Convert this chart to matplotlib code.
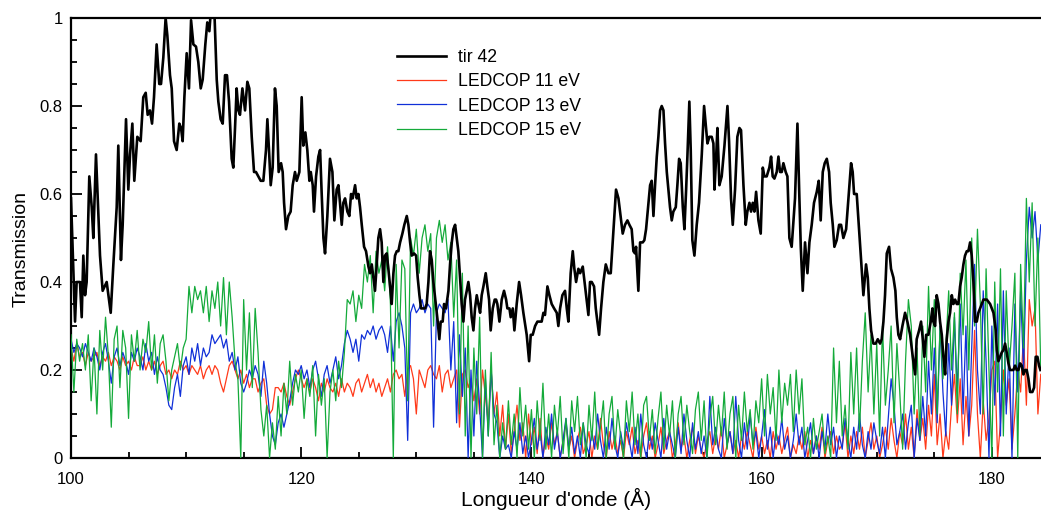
import numpy as np
import matplotlib
matplotlib.use("Agg")
import matplotlib.pyplot as plt
from matplotlib.ticker import MultipleLocator, FormatStrFormatter

plt.rcParams['font.family'] = ['Liberation Sans', 'DejaVu Sans']

# ---------------- data ----------------
labels = ["tir 42", "LEDCOP 11 eV", "LEDCOP 13 eV", "LEDCOP 15 eV"]

tir_x = [100.00, 100.35, 100.49, 100.78, 100.93, 101.07, 101.22, 101.36, 101.59, 101.80, 101.94,
         102.17, 102.37, 102.52, 102.75, 103.10, 103.45, 103.68, 103.97, 104.11, 104.34, 104.49,
         104.78, 104.98, 105.13, 105.33, 105.50, 105.76, 106.05, 106.28, 106.49, 106.66, 106.86,
         107.04, 107.21, 107.44, 107.67, 107.82, 108.02, 108.22, 108.37, 108.60, 108.75, 108.95,
         109.18, 109.41, 109.56, 109.70, 109.85, 110.05, 110.25, 110.43, 110.63, 110.86, 111.06,
         111.27, 111.44, 111.67, 111.84, 112.02, 112.16, 112.45, 112.66, 112.80, 113.00, 113.18,
         113.38, 113.55, 113.73, 113.96, 114.10, 114.25, 114.39, 114.54, 114.68, 114.89, 115.12,
         115.32, 115.49, 115.70, 115.90, 116.07, 116.28, 116.48, 116.71, 116.94, 117.06, 117.23,
         117.35, 117.52, 117.72, 117.87, 118.04, 118.25, 118.39, 118.51, 118.68, 118.88, 119.08,
         119.26, 119.46, 119.61, 119.84, 120.04, 120.18, 120.36, 120.53, 120.71,
         120.83, 121.00, 121.11, 121.29, 121.49, 121.64, 121.78, 121.93, 122.07, 122.27, 122.50,
         122.71, 122.88, 123.08, 123.23, 123.37, 123.52, 123.66, 123.81, 124.01, 124.18, 124.33,
         124.47, 124.68, 124.82, 124.97, 125.11, 125.26, 125.46, 125.63, 125.84, 125.98, 126.13,
         126.27, 126.41, 126.56, 126.70, 126.85, 126.99, 127.14, 127.28, 127.43, 127.57, 127.72,
         127.86, 128.01, 128.15, 128.30, 128.44, 128.59, 128.79, 128.96, 129.17, 129.31, 129.46,
         129.60, 129.80, 129.98, 130.12, 130.27, 130.41, 130.61, 130.76, 130.90, 131.05, 131.19,
         131.34, 131.48, 131.69, 131.86, 132.00, 132.12, 132.29, 132.41, 132.58, 132.79, 132.93,
         133.08, 133.22, 133.37, 133.51, 133.65, 133.80, 133.94, 134.09, 134.23, 134.38, 134.52,
         134.67, 134.81, 134.96, 135.10, 135.25, 135.39, 135.54, 135.68, 135.83, 136.03, 136.17,
         136.32, 136.46, 136.64, 136.81, 136.93, 137.04, 137.22, 137.42, 137.62, 137.80, 137.91,
         138.09, 138.20, 138.38, 138.52, 138.72, 138.93, 139.10, 139.30, 139.59, 139.80, 139.94,
         140.11, 140.32, 140.52,
         140.75, 140.89, 141.04, 141.18, 141.39, 141.56, 141.76, 141.97, 142.20, 142.34, 142.49,
         142.69, 142.92, 143.07, 143.21, 143.41, 143.59, 143.73, 143.88, 144.08, 144.23, 144.46,
         144.66, 144.80, 144.95, 145.09, 145.24, 145.44, 145.59, 145.73, 145.88, 146.05, 146.25,
         146.46, 146.69, 146.89, 147.06, 147.21, 147.35, 147.56, 147.70, 147.93, 148.13, 148.34,
         148.51, 148.71, 148.86, 149.00, 149.09, 149.29, 149.44, 149.67, 149.81, 149.96, 150.10,
         150.31, 150.45, 150.60, 150.74, 150.89, 151.03, 151.18, 151.32, 151.47, 151.61, 151.76,
         151.90, 152.04, 152.19, 152.33, 152.54, 152.68, 152.83, 152.97, 153.15, 153.29, 153.44,
         153.55, 153.72, 153.84, 153.98, 154.16, 154.36, 154.56, 154.80, 155.00, 155.14, 155.29,
         155.46, 155.66, 155.81, 155.90, 156.04, 156.16, 156.33, 156.53, 156.77, 157.03, 157.17,
         157.34, 157.49, 157.69, 157.89, 158.07, 158.21, 158.42, 158.62, 158.76, 158.94, 159.08,
         159.23, 159.37, 159.52, 159.72, 159.92, 160.10, 160.24, 160.44, 160.67, 160.82, 160.96,
         161.11, 161.31, 161.46, 161.60, 161.75, 161.89, 162.09, 162.24, 162.41, 162.61,
         162.90, 163.11, 163.28, 163.40, 163.57, 163.77, 163.98, 164.15, 164.35, 164.55, 164.79,
         164.96, 165.13, 165.31, 165.48, 165.66, 165.86, 166.00, 166.18, 166.32, 166.52, 166.73,
         166.90, 167.10, 167.34, 167.54, 167.77, 167.91, 168.03, 168.26, 168.44, 168.64, 168.84,
         169.07, 169.22, 169.36, 169.51, 169.71, 169.91, 170.09, 170.29, 170.43, 170.58, 170.72,
         170.87, 171.07, 171.24, 171.45, 171.62, 171.74, 171.88, 172.03, 172.23, 172.46, 172.66,
         172.90, 173.13, 173.33, 173.47, 173.68, 173.85, 174.00, 174.14, 174.29, 174.49, 174.69,
         174.84, 174.92, 175.07, 175.21, 175.36, 175.50, 175.65, 175.79, 175.94, 176.08, 176.23,
         176.37, 176.52, 176.66, 176.81, 176.95, 177.09, 177.24, 177.38, 177.53, 177.67, 177.82,
         177.96, 178.11, 178.25, 178.40, 178.54, 178.69, 178.83, 178.98, 179.12, 179.27, 179.56,
         179.85, 180.14, 180.34, 180.43, 180.57, 180.71, 180.86, 181.00, 181.15, 181.29, 181.44,
         181.58, 181.73, 181.87, 182.02, 182.16, 182.31, 182.45, 182.60, 182.74, 182.89, 183.03,
         183.18, 183.32, 183.52, 183.67, 183.81, 183.96, 184.10, 184.22]

tir_y = [0.59, 0.31, 0.40, 0.40, 0.32, 0.46, 0.37, 0.40, 0.64, 0.57, 0.50,
         0.69, 0.56, 0.46, 0.38, 0.40, 0.33, 0.44, 0.57, 0.71, 0.45, 0.53,
         0.77, 0.61, 0.69, 0.76, 0.63, 0.73, 0.72, 0.82, 0.83, 0.78, 0.79,
         0.76, 0.82, 0.94, 0.85, 0.85, 0.91, 1.00, 0.96, 0.87, 0.84, 0.72,
         0.70, 0.76, 0.75, 0.72, 0.82, 0.92, 0.84, 0.995, 0.94, 0.935, 0.90,
         0.84, 0.86, 0.94, 0.99, 0.97, 1.02, 1.02, 0.86, 0.81, 0.77, 0.76,
         0.87, 0.87, 0.81, 0.68, 0.66, 0.75, 0.84, 0.79, 0.78, 0.84, 0.79,
         0.855, 0.84, 0.73, 0.65, 0.65, 0.64, 0.63, 0.63, 0.70, 0.77, 0.685,
         0.62, 0.66, 0.84, 0.80, 0.65, 0.67, 0.65, 0.58, 0.52, 0.55, 0.56,
         0.62, 0.65, 0.63, 0.65, 0.82, 0.71, 0.74, 0.70, 0.63,
         0.65, 0.62, 0.56, 0.64, 0.685, 0.70, 0.60, 0.50, 0.465, 0.55, 0.68,
         0.65, 0.54, 0.61, 0.62, 0.58, 0.53, 0.58, 0.59, 0.56, 0.55, 0.60,
         0.59, 0.62, 0.59, 0.60, 0.57, 0.53, 0.48, 0.47, 0.435, 0.42, 0.44,
         0.41, 0.38, 0.44, 0.50, 0.52, 0.49, 0.40, 0.46, 0.465, 0.43, 0.39,
         0.35, 0.42, 0.46, 0.47, 0.47, 0.49, 0.51, 0.53, 0.55, 0.53, 0.49,
         0.46, 0.465, 0.46, 0.41, 0.37, 0.34, 0.34, 0.34, 0.35, 0.40, 0.47,
         0.45, 0.40, 0.35, 0.31, 0.27, 0.31, 0.31, 0.35, 0.34, 0.38, 0.44,
         0.49, 0.52, 0.53, 0.50, 0.47, 0.41, 0.35, 0.31, 0.36, 0.38, 0.40,
         0.37, 0.32, 0.29, 0.34, 0.37, 0.35, 0.33, 0.37, 0.39, 0.42, 0.39,
         0.36, 0.29, 0.34, 0.36, 0.36, 0.35, 0.31, 0.36, 0.38, 0.36, 0.34,
         0.34, 0.32, 0.34, 0.29, 0.35, 0.40, 0.37, 0.33, 0.28, 0.22, 0.28,
         0.28, 0.30, 0.31,
         0.31, 0.31, 0.33, 0.325, 0.39, 0.37, 0.35, 0.34, 0.33, 0.30, 0.34,
         0.37, 0.38, 0.34, 0.31, 0.42, 0.47, 0.43, 0.40, 0.43, 0.42, 0.435,
         0.39, 0.36, 0.325, 0.40, 0.40, 0.39, 0.34, 0.31, 0.28, 0.34, 0.40,
         0.44, 0.42, 0.42, 0.49, 0.55, 0.61, 0.59, 0.56, 0.51, 0.53, 0.54,
         0.53, 0.52, 0.47, 0.465, 0.48, 0.38, 0.49, 0.49, 0.495, 0.52, 0.56,
         0.62, 0.63, 0.55, 0.62, 0.685, 0.73, 0.79, 0.80, 0.79, 0.715, 0.65,
         0.61, 0.57, 0.54, 0.56, 0.57, 0.62, 0.68, 0.67, 0.57, 0.52, 0.61,
         0.685, 0.81, 0.70, 0.495, 0.46, 0.53, 0.58, 0.69, 0.80, 0.76, 0.715,
         0.73, 0.73, 0.715, 0.61, 0.68, 0.75, 0.62, 0.64, 0.71, 0.80, 0.72,
         0.59, 0.53, 0.61, 0.73, 0.75, 0.745, 0.62, 0.53, 0.56, 0.58, 0.56,
         0.58, 0.56, 0.605, 0.54, 0.51, 0.66, 0.64, 0.64, 0.66, 0.685, 0.64,
         0.635, 0.65, 0.685, 0.65, 0.65, 0.67, 0.65, 0.64, 0.50, 0.48,
         0.59, 0.76, 0.59, 0.48, 0.38, 0.49, 0.42, 0.49, 0.53, 0.58, 0.605,
         0.63, 0.54, 0.65, 0.67, 0.68, 0.65, 0.58, 0.53, 0.48, 0.495, 0.53,
         0.53, 0.50, 0.52, 0.59, 0.67, 0.65, 0.60, 0.60, 0.53, 0.45, 0.37,
         0.44, 0.41, 0.34, 0.29, 0.26, 0.26, 0.27, 0.26, 0.27, 0.31, 0.37,
         0.465, 0.48, 0.43, 0.41, 0.38, 0.32, 0.28, 0.27, 0.30, 0.33, 0.31,
         0.28, 0.23, 0.19, 0.27, 0.29, 0.31, 0.27, 0.23, 0.28, 0.28, 0.31,
         0.34, 0.31, 0.30, 0.37, 0.35, 0.31, 0.28, 0.23, 0.19, 0.27, 0.31,
         0.33, 0.37, 0.35, 0.36, 0.35, 0.35, 0.39, 0.41, 0.44, 0.46, 0.47,
         0.47, 0.49, 0.46, 0.40, 0.31, 0.31, 0.33, 0.34, 0.35, 0.36, 0.36,
         0.35, 0.33, 0.29, 0.245, 0.22, 0.23, 0.24, 0.245, 0.26, 0.24, 0.215,
         0.20, 0.20, 0.20, 0.21, 0.20, 0.20, 0.215, 0.21, 0.19, 0.20, 0.20,
         0.18, 0.15, 0.15, 0.16, 0.23, 0.23, 0.21, 0.20]

# LEDCOP spectra sampled every 0.25 A from 100.00 to 184.25 A
led_start, led_step = 100.0, 0.25

led11 = [0.25, 0.22, 0.26, 0.23, 0.24, 0.21, 0.24, 0.22, 0.23, 0.24, 0.21, 0.23,
         0.22, 0.24, 0.21, 0.23, 0.22, 0.20, 0.23, 0.21, 0.22, 0.20, 0.23, 0.21,
         0.21, 0.23, 0.20, 0.22, 0.20, 0.22, 0.19, 0.21, 0.22, 0.19, 0.20, 0.18,
         0.20, 0.19, 0.22, 0.20, 0.21, 0.19, 0.21, 0.20, 0.19, 0.21, 0.18, 0.20,
         0.21, 0.19, 0.21, 0.20, 0.17, 0.15, 0.18, 0.21, 0.22, 0.20, 0.18, 0.20,
         0.17, 0.19, 0.16, 0.18, 0.18, 0.15, 0.17, 0.18, 0.12, 0.10, 0.11, 0.16,
         0.16, 0.15, 0.17, 0.14, 0.12, 0.15, 0.18, 0.20, 0.18, 0.16, 0.18, 0.15,
         0.18, 0.16, 0.13, 0.17, 0.15, 0.18, 0.16, 0.15, 0.17, 0.14, 0.18, 0.15,
         0.17, 0.16, 0.14, 0.17, 0.18, 0.15, 0.17, 0.19, 0.16, 0.18, 0.15, 0.17,
         0.14, 0.16, 0.18, 0.15, 0.19, 0.20, 0.18, 0.19, 0.14, 0.20, 0.21, 0.18,
         0.10, 0.20, 0.18, 0.16, 0.20, 0.21, 0.19, 0.18, 0.21, 0.15, 0.19, 0.20,
         0.16, 0.18, 0.20, 0.07, 0.19, 0.20, 0.16, 0.18, 0.13, 0.18, 0.10, 0.20,
         0.14, 0.08, 0.20, 0.10, 0.15, 0.05, 0.12, 0.02, 0.10, 0.01, 0.06, 0.12,
         0.04, 0.08, 0.00, 0.10, 0.03, 0.07, 0.01, 0.09, 0.00, 0.05, 0.02, 0.08,
         0.03, 0.06, 0.00, 0.04, 0.08, 0.02, 0.05, 0.00, 0.04, 0.07, 0.01, 0.03,
         0.06, 0.00, 0.05, 0.02, 0.09, 0.03, 0.00, 0.06, 0.02, 0.05, 0.01, 0.04,
         0.00, 0.06, 0.03, 0.07, 0.01, 0.04, 0.00, 0.05, 0.08, 0.02, 0.05, 0.00,
         0.03, 0.07, 0.01, 0.04, 0.06, 0.00, 0.03, 0.08, 0.02, 0.05, 0.00, 0.04,
         0.07, 0.01, 0.05, 0.02, 0.00, 0.04, 0.06, 0.01, 0.05, 0.02, 0.07, 0.00,
         0.03, 0.06, 0.01, 0.04, 0.00, 0.05, 0.02, 0.06, 0.03, 0.00, 0.07, 0.02,
         0.05, 0.01, 0.04, 0.00, 0.06, 0.02, 0.05, 0.01, 0.04, 0.07, 0.00, 0.03,
         0.01, 0.05, 0.02, 0.06, 0.00, 0.04, 0.01, 0.05, 0.02, 0.07, 0.00, 0.04,
         0.06, 0.01, 0.05, 0.02, 0.03, 0.08, 0.00, 0.05, 0.01, 0.06, 0.02, 0.07,
         0.00, 0.04, 0.08, 0.02, 0.05, 0.00, 0.03, 0.07, 0.02, 0.09, 0.04, 0.00,
         0.06, 0.03, 0.10, 0.02, 0.07, 0.00, 0.11, 0.04, 0.09, 0.02, 0.12, 0.05,
         0.19, 0.03, 0.10, 0.00, 0.06, 0.02, 0.12, 0.19, 0.08, 0.18, 0.03, 0.14,
         0.05, 0.12, 0.29, 0.10, 0.00, 0.13, 0.04, 0.09, 0.20, 0.22, 0.00, 0.08,
         0.20, 0.12, 0.18, 0.02, 0.10, 0.20, 0.15, 0.28, 0.12, 0.36, 0.30, 0.34,
         0.10, 0.19]

led13 = [0.27, 0.24, 0.26, 0.25, 0.23, 0.26, 0.24, 0.22, 0.25, 0.23, 0.20, 0.24,
         0.26, 0.22, 0.17, 0.23, 0.25, 0.21, 0.24, 0.22, 0.19, 0.24, 0.22, 0.25,
         0.23, 0.20, 0.26, 0.22, 0.24, 0.19, 0.23, 0.20, 0.19, 0.16, 0.12, 0.11,
         0.16, 0.19, 0.14, 0.21, 0.23, 0.19, 0.25, 0.22, 0.26, 0.21, 0.25, 0.23,
         0.24, 0.28, 0.26, 0.27, 0.28, 0.25, 0.27, 0.22, 0.24, 0.20, 0.23, 0.17,
         0.15, 0.17, 0.20, 0.18, 0.21, 0.19, 0.14, 0.22, 0.17, 0.10, 0.05, 0.03,
         0.08, 0.10, 0.07, 0.10, 0.13, 0.17, 0.20, 0.19, 0.21, 0.18, 0.20, 0.16,
         0.20, 0.22, 0.18, 0.14, 0.19, 0.21, 0.17, 0.20, 0.23, 0.18, 0.21, 0.26,
         0.29, 0.27, 0.24, 0.27, 0.22, 0.28, 0.27, 0.29, 0.28, 0.30, 0.27, 0.29,
         0.30, 0.28, 0.24, 0.30, 0.22, 0.31, 0.33, 0.30, 0.25, 0.04, 0.33, 0.35,
         0.33, 0.34, 0.36, 0.33, 0.35, 0.34, 0.07, 0.33, 0.35, 0.34, 0.33, 0.36,
         0.20, 0.31, 0.08, 0.28, 0.14, 0.25, 0.00, 0.20, 0.05, 0.22, 0.12, 0.00,
         0.18, 0.05, 0.20, 0.10, 0.08, 0.00, 0.05, 0.02, 0.03, 0.00, 0.06, 0.02,
         0.08, 0.01, 0.05, 0.00, 0.04, 0.09, 0.02, 0.06, 0.00, 0.07, 0.03, 0.10,
         0.02, 0.06, 0.00, 0.04, 0.09, 0.02, 0.07, 0.01, 0.05, 0.00, 0.08, 0.03,
         0.01, 0.06, 0.02, 0.10, 0.04, 0.00, 0.07, 0.02, 0.09, 0.03, 0.00, 0.06,
         0.02, 0.08, 0.04, 0.00, 0.07, 0.01, 0.10, 0.03, 0.00, 0.06, 0.02, 0.08,
         0.04, 0.00, 0.09, 0.02, 0.06, 0.03, 0.00, 0.07, 0.01, 0.10, 0.04, 0.00,
         0.08, 0.02, 0.06, 0.01, 0.05, 0.00, 0.14, 0.03, 0.07, 0.02, 0.00, 0.09,
         0.03, 0.06, 0.01, 0.14, 0.04, 0.00, 0.08, 0.02, 0.10, 0.03, 0.06, 0.00,
         0.05, 0.11, 0.02, 0.07, 0.00, 0.06, 0.03, 0.09, 0.02, 0.05, 0.00, 0.04,
         0.10, 0.03, 0.07, 0.00, 0.04, 0.08, 0.01, 0.05, 0.00, 0.06, 0.02, 0.10,
         0.03, 0.07, 0.00, 0.05, 0.02, 0.09, 0.04, 0.00, 0.07, 0.02, 0.10, 0.03,
         0.00, 0.06, 0.02, 0.08, 0.04, 0.01, 0.07, 0.00, 0.09, 0.18, 0.12, 0.03,
         0.06, 0.10, 0.02, 0.08, 0.12, 0.00, 0.09, 0.04, 0.14, 0.05, 0.22, 0.10,
         0.25, 0.08, 0.30, 0.15, 0.05, 0.26, 0.12, 0.32, 0.15, 0.35, 0.10, 0.30,
         0.05, 0.25, 0.44, 0.20, 0.10, 0.38, 0.22, 0.00, 0.30, 0.12, 0.35, 0.05,
         0.38, 0.10, 0.25, 0.00, 0.35, 0.15, 0.38, 0.20, 0.45, 0.57, 0.50, 0.56,
         0.45, 0.53]

led15 = [0.28, 0.15, 0.27, 0.22, 0.26, 0.20, 0.28, 0.13, 0.25, 0.10, 0.29, 0.20,
         0.32, 0.23, 0.07, 0.27, 0.30, 0.16, 0.29, 0.25, 0.09, 0.28, 0.22, 0.29,
         0.20, 0.27, 0.24, 0.31, 0.20, 0.28, 0.17, 0.26, 0.28, 0.22, 0.13, 0.20,
         0.23, 0.26, 0.20, 0.25, 0.27, 0.39, 0.33, 0.39, 0.36, 0.38, 0.33, 0.39,
         0.31, 0.38, 0.34, 0.40, 0.30, 0.41, 0.28, 0.40, 0.32, 0.22, 0.18, 0.00,
         0.36, 0.20, 0.33, 0.16, 0.34, 0.24, 0.11, 0.05, 0.12, 0.00, 0.08, 0.02,
         0.14, 0.05, 0.17, 0.10, 0.22, 0.12, 0.19, 0.15, 0.20, 0.09, 0.18, 0.14,
         0.21, 0.05, 0.19, 0.12, 0.18, 0.00, 0.15, 0.20, 0.13, 0.22, 0.16, 0.24,
         0.36, 0.35, 0.38, 0.31, 0.37, 0.34, 0.44, 0.40, 0.46, 0.33, 0.47, 0.42,
         0.45, 0.38, 0.48, 0.35, 0.00, 0.44, 0.25, 0.45, 0.43, 0.13, 0.50, 0.46,
         0.52, 0.42, 0.50, 0.53, 0.47, 0.51, 0.30, 0.50, 0.54, 0.49, 0.53, 0.45,
         0.49, 0.32, 0.45, 0.10, 0.42, 0.05, 0.30, 0.00, 0.25, 0.10, 0.32, 0.00,
         0.20, 0.05, 0.24, 0.03, 0.12, 0.00, 0.08, 0.02, 0.13, 0.03, 0.10, 0.00,
         0.16, 0.05, 0.12, 0.02, 0.11, 0.00, 0.13, 0.04, 0.17, 0.02, 0.10, 0.00,
         0.12, 0.05, 0.14, 0.01, 0.09, 0.00, 0.13, 0.06, 0.14, 0.03, 0.08, 0.00,
         0.12, 0.04, 0.15, 0.02, 0.07, 0.13, 0.00, 0.10, 0.14, 0.02, 0.11, 0.05,
         0.00, 0.13, 0.06, 0.15, 0.03, 0.10, 0.00, 0.12, 0.14, 0.04, 0.11, 0.01,
         0.09, 0.15, 0.02, 0.12, 0.05, 0.13, 0.00, 0.10, 0.14, 0.03, 0.12, 0.06,
         0.01, 0.11, 0.15, 0.04, 0.13, 0.00, 0.09, 0.14, 0.03, 0.12, 0.05, 0.15,
         0.02, 0.10, 0.14, 0.00, 0.12, 0.04, 0.15, 0.06, 0.11, 0.02, 0.13, 0.08,
         0.18, 0.05, 0.19, 0.10, 0.16, 0.04, 0.20, 0.08, 0.17, 0.12, 0.19, 0.06,
         0.20, 0.10, 0.18, 0.03, 0.07, 0.00, 0.09, 0.02, 0.06, 0.10, 0.01, 0.05,
         0.00, 0.25, 0.08, 0.22, 0.05, 0.12, 0.02, 0.24, 0.10, 0.25, 0.06, 0.22,
         0.33, 0.15, 0.28, 0.10, 0.26, 0.05, 0.30, 0.12, 0.20, 0.30, 0.08, 0.26,
         0.15, 0.02, 0.22, 0.36, 0.30, 0.10, 0.25, 0.05, 0.30, 0.15, 0.39, 0.20,
         0.36, 0.10, 0.30, 0.18, 0.25, 0.38, 0.20, 0.33, 0.10, 0.42, 0.28, 0.45,
         0.20, 0.50, 0.30, 0.52, 0.35, 0.10, 0.43, 0.20, 0.00, 0.40, 0.15, 0.43,
         0.05, 0.38, 0.20, 0.30, 0.42, 0.00, 0.44, 0.25, 0.59, 0.40, 0.58, 0.30,
         0.50, 0.20]

colors = ["#000000", "#ff3a1a", "#1030d8", "#14aa3a"]

# ---------------- figure ----------------
fig = plt.figure(figsize=(10.41, 5.14), dpi=100)
ax = fig.add_axes([71 / 1041, 56 / 514, 970 / 1041, 440 / 514])

led_x = led_start + led_step * np.arange(len(led11))

h1, = ax.plot(led_x, led11, color=colors[1], lw=0.9, zorder=2)
h2, = ax.plot(led_x, led13, color=colors[2], lw=0.9, zorder=3)
h3, = ax.plot(led_x, led15, color=colors[3], lw=0.9, zorder=4)
h0, = ax.plot(tir_x, tir_y, color=colors[0], lw=1.9, zorder=5)

ax.set_xlim(100, 184.27)
ax.set_ylim(0, 1)

ax.xaxis.set_major_locator(MultipleLocator(20))
ax.xaxis.set_minor_locator(MultipleLocator(5))
ax.yaxis.set_major_locator(MultipleLocator(0.2))
ax.yaxis.set_minor_locator(MultipleLocator(0.05))
ax.yaxis.set_major_formatter(FormatStrFormatter('%g'))

ax.tick_params(which='both', direction='in', top=False, right=False, labelsize=12, width=1.3)
ax.tick_params(which='major', length=8)
ax.tick_params(which='minor', length=4.5)
ax.tick_params(axis='x', which='major', pad=10)
ax.tick_params(axis='y', which='major', pad=6)

for s in ['left', 'bottom', 'top']:
    ax.spines[s].set_linewidth(1.6)
ax.spines['right'].set_visible(False)

ax.set_xlabel("Longueur d'onde (Å)", fontsize=15, labelpad=1)
ax.set_ylabel("Transmission", fontsize=14)
ax.yaxis.set_label_coords(-0.043, 0.475)

leg = ax.legend([h0, h1, h2, h3], labels, loc='upper left', bbox_to_anchor=(0.336, 0.93),
                frameon=False, fontsize=12.7, handlelength=2.8, handletextpad=0.66,
                labelspacing=0.42, borderpad=0, borderaxespad=0)

fig.savefig("out.png", dpi=100)
